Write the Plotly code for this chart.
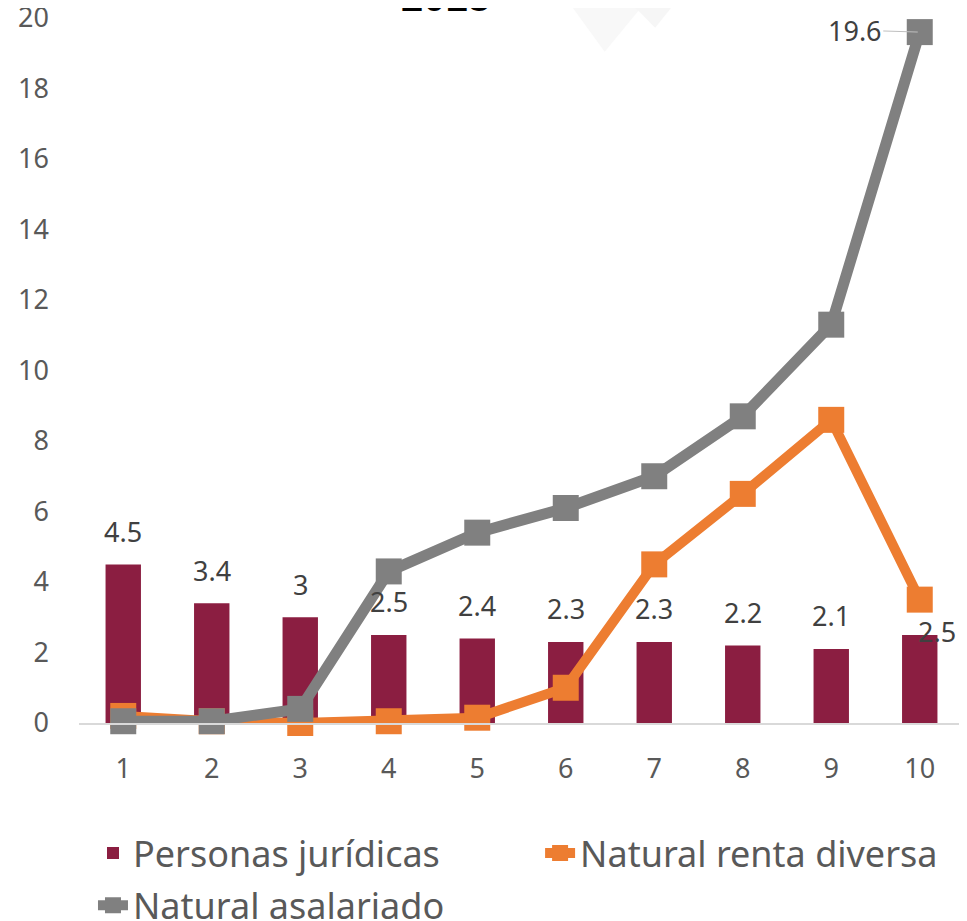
import plotly.graph_objects as go

categories = ["1", "2", "3", "4", "5", "6", "7", "8", "9", "10"]
personas_juridicas = [4.5, 3.4, 3.0, 2.5, 2.4, 2.3, 2.3, 2.2, 2.1, 2.5]
natural_renta_diversa = [0.2, 0.05, 0.0, 0.05, 0.15, 1.0, 4.5, 6.5, 8.6, 3.5]
natural_asalariado = [0.05, 0.05, 0.4, 4.3, 5.4, 6.1, 7.0, 8.7, 11.3, 19.6]
bar_labels = ["4.5", "3.4", "3", "2.5", "2.4", "2.3", "2.3", "2.2", "2.1", "2.5"]
yticks = [0, 2, 4, 6, 8, 10, 12, 14, 16, 18, 20]
title_text = "2018"

FONT = "Noto Sans, sans-serif"
BAR_C = "#8B1E41"
ORANGE = "#ED7D31"
GRAY = "#808080"
TXT = "#595959"
LBL = "#404040"

fig = go.Figure()
fig.add_trace(go.Bar(
    x=categories, y=personas_juridicas, name="Personas jurídicas",
    marker=dict(color=BAR_C, line=dict(width=0)), width=0.4, legend="legend",
))
fig.add_trace(go.Scatter(
    x=categories, y=natural_renta_diversa, name="Natural renta diversa",
    mode="lines+markers", line=dict(color=ORANGE, width=10),
    marker=dict(symbol="square", size=26, color=ORANGE), cliponaxis=False, legend="legend2",
))
fig.add_trace(go.Scatter(
    x=categories, y=natural_asalariado, name="Natural asalariado",
    mode="lines+markers", line=dict(color=GRAY, width=11),
    marker=dict(symbol="square", size=26, color=GRAY), cliponaxis=False, legend="legend3",
))

annotations = []
n = len(categories)
for i, (v, t) in enumerate(zip(personas_juridicas, bar_labels)):
    last = i == n - 1
    annotations.append(dict(x=i, y=v, xref="x", yref="y", text=t, showarrow=False,
                            xshift=17 if last else 0, yshift=3 if last else 33,
                            font=dict(family=FONT, size=27, color=LBL)))
annotations.append(dict(
    x=n - 1, y=natural_asalariado[-1], xref="x", yref="y", text=str(natural_asalariado[-1]),
    showarrow=True, arrowhead=0, arrowwidth=1, arrowcolor="#bfbfbf",
    ax=-65, ay=-2, standoff=2, font=dict(family=FONT, size=27, color=LBL),
))
annotations.append(dict(
    x=0.414, y=1.0, xref="paper", yref="paper", xanchor="center", yanchor="bottom",
    text="<b>" + title_text + "</b>", showarrow=False,
    font=dict(family="Liberation Sans, Arial", size=40, color="black"), yshift=-3,
))

leg_common = dict(orientation="v", xanchor="left", yanchor="top", bgcolor="rgba(0,0,0,0)",
                  font=dict(family=FONT, size=36, color=TXT))

fig.update_layout(
    width=967, height=921,
    margin=dict(l=71, r=11, t=10, b=206, autoexpand=False),
    paper_bgcolor="white", plot_bgcolor="white",
    font=dict(family=FONT, color=TXT),
    showlegend=True,
    legend=dict(x=0.0158, y=-0.142, **leg_common),
    legend2=dict(x=0.521, y=-0.142, **leg_common),
    legend3=dict(x=0.0158, y=-0.216, **leg_common),
    annotations=annotations,
    shapes=[
        dict(type="path", xref="paper", yref="paper", layer="below",
             path="M 0.549 1.03 L 0.645 1.03 L 0.594 0.952 Z",
             fillcolor="#f8f8f8", line=dict(width=0)),
        dict(type="path", xref="paper", yref="paper", layer="below",
             path="M 0.617 1.03 L 0.679 1.03 L 0.651 0.986 Z",
             fillcolor="#f6f6f6", line=dict(width=0)),
    ],
)
fig.update_xaxes(type="category", range=[-0.5, n - 0.5], showgrid=False, showline=True,
                 linecolor="#d9d9d9", linewidth=2, ticks="",
                 tickfont=dict(family=FONT, size=27, color=TXT), ticklabelstandoff=21,
                 zeroline=False)
fig.update_yaxes(range=[0, 20], tickvals=yticks, showgrid=False, showline=False, zeroline=False,
                 ticks="", tickfont=dict(family=FONT, size=27, color=TXT), ticklabelstandoff=29,
                 ticklabeloverflow="allow")

fig.write_html("out.html")
